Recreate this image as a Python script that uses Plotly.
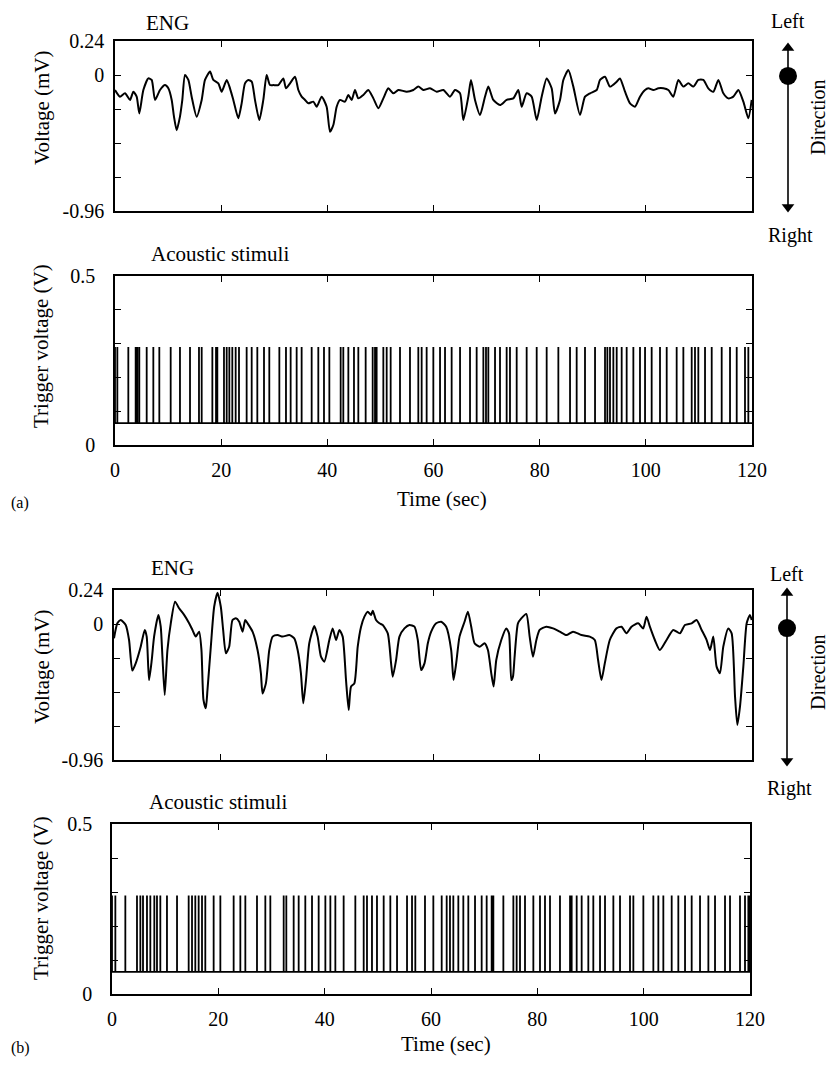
import plotly.graph_objects as go

# page is photographed at 840x1065; the html body adds an 8px margin on every side
PAGE_W, PAGE_H = 840, 1065
OFF = 8
W, H = PAGE_W - 2 * OFF, PAGE_H - 2 * OFF

# ---------------- data ----------------
eng_a_time = [
    0.00, 0.94, 1.88, 2.83, 3.45, 4.08, 4.58, 5.34, 6.28, 6.91,
    7.54, 8.48, 9.42, 10.05, 10.68, 11.11, 11.62, 12.24, 12.68, 13.19,
    13.82, 14.44, 15.38, 16.33, 16.95, 17.90, 18.52, 19.47, 20.09, 21.04,
    21.66, 22.29, 23.23, 23.86, 24.49, 25.12, 25.75, 26.37, 27.19, 27.94,
    28.57, 29.20, 29.83, 30.77, 31.71, 32.21, 32.97, 33.91, 34.54, 35.16,
    35.79, 36.42, 37.36, 37.99, 38.93, 39.87, 40.50, 41.13, 41.76, 42.39,
    43.33, 43.96, 44.58, 45.21, 45.84, 46.78, 47.72, 48.67, 49.61, 50.55,
    51.49, 52.43, 53.38, 54.95, 56.20, 57.14, 58.09, 59.34, 60.60, 61.85,
    63.11, 64.05, 65.00, 65.62, 66.56, 67.06, 67.82, 68.76, 69.70, 70.33,
    71.27, 72.53, 73.78, 75.04, 75.98, 76.61, 77.55, 78.49, 79.44, 80.38,
    81.32, 82.26, 82.89, 83.83, 84.46, 85.40, 86.34, 87.60, 88.54, 89.48,
    90.74, 91.37, 92.31, 93.25, 94.51, 95.13, 96.08, 97.02, 97.96, 98.90,
    99.85, 100.47, 101.41, 102.36, 103.30, 104.24, 105.18, 106.12, 107.07, 108.01,
    108.95, 109.89, 110.83, 111.77, 112.72, 113.66, 114.60, 115.54, 116.48, 117.43,
    118.37, 119.31, 119.94,
]
eng_a_volt = [
    -0.106, -0.153, -0.129, -0.176, -0.118, -0.153, -0.271, -0.106, -0.024, -0.035,
    -0.176, -0.106, -0.071, -0.094, -0.176, -0.294, -0.390, -0.294, -0.176, 0.000,
    -0.035, -0.153, -0.294, -0.176, -0.035, 0.024, -0.035, -0.059, -0.118, -0.035,
    -0.094, -0.176, -0.306, -0.200, -0.059, -0.035, -0.047, -0.176, -0.318, -0.176,
    0.000, -0.071, -0.071, -0.071, -0.024, -0.094, -0.059, -0.012, -0.106, -0.153,
    -0.176, -0.200, -0.188, -0.224, -0.153, -0.224, -0.400, -0.353, -0.224, -0.176,
    -0.188, -0.141, -0.176, -0.106, -0.165, -0.141, -0.106, -0.165, -0.235, -0.165,
    -0.094, -0.129, -0.106, -0.118, -0.106, -0.082, -0.106, -0.094, -0.118, -0.106,
    -0.153, -0.106, -0.129, -0.318, -0.153, -0.035, -0.176, -0.282, -0.153, -0.082,
    -0.176, -0.212, -0.176, -0.165, -0.106, -0.224, -0.129, -0.153, -0.318, -0.153,
    -0.024, -0.094, -0.271, -0.176, -0.035, 0.035, -0.082, -0.282, -0.153, -0.129,
    -0.106, -0.035, -0.012, -0.082, -0.047, -0.024, -0.118, -0.200, -0.224, -0.153,
    -0.106, -0.094, -0.106, -0.094, -0.094, -0.106, -0.153, -0.035, -0.082, -0.059,
    -0.082, -0.035, -0.035, -0.094, -0.118, -0.035, -0.129, -0.165, -0.153, -0.106,
    -0.188, -0.306, -0.176,
]

eng_b_time = [
    0.00, 0.63, 1.26, 2.20, 2.83, 3.45, 4.08, 5.02, 5.78, 6.15,
    6.59, 7.10, 7.54, 8.35, 8.79, 9.11, 9.54, 10.05, 10.68, 11.49,
    12.24, 13.19, 14.13, 14.76, 15.38, 16.01, 16.45, 16.83, 17.27, 17.58,
    18.21, 18.84, 19.47, 20.09, 20.53, 21.04, 21.66, 22.29, 22.92, 23.55,
    24.18, 24.68, 25.12, 26.06, 27.00, 27.63, 27.94, 28.57, 29.20, 29.83,
    30.77, 31.71, 32.97, 33.91, 34.54, 35.16, 35.60, 36.11, 36.73, 37.68,
    38.30, 38.93, 39.56, 40.50, 41.13, 41.76, 42.39, 43.01, 43.64, 44.14,
    44.58, 45.21, 45.84, 46.47, 47.10, 47.72, 48.35, 48.67, 49.29, 49.92,
    50.55, 51.49, 52.12, 52.43, 53.06, 53.69, 54.63, 55.57, 56.52, 57.14,
    57.77, 58.40, 59.03, 59.66, 60.60, 61.54, 62.48, 63.42, 63.86, 64.36,
    64.99, 65.93, 66.56, 67.19, 67.82, 68.76, 69.70, 70.33, 70.96, 71.40,
    71.90, 72.84, 73.78, 74.29, 74.73, 75.04, 75.35, 75.98, 76.61, 77.55,
    78.18, 78.81, 79.44, 80.06, 81.32, 82.58, 83.83, 85.09, 86.34, 87.91,
    89.48, 90.43, 91.05, 91.68, 92.31, 93.25, 94.51, 95.45, 96.39, 97.33,
    98.59, 99.53, 100.16, 100.79, 101.73, 102.67, 103.93, 105.18, 106.44, 107.38,
    108.64, 109.58, 110.53, 111.47, 112.10, 112.72, 113.34, 113.97, 114.60, 115.54,
    116.17, 116.81, 117.24, 117.74, 118.37, 119.00, 119.62, 119.94,
]
eng_b_volt = [
    -0.101, 0.005, 0.028, -0.007, -0.113, -0.329, -0.278, -0.160, -0.042, -0.089,
    -0.396, -0.254, -0.089, 0.064, -0.019, -0.231, -0.501, -0.184, 0.005, 0.158,
    0.111, 0.064, 0.005, -0.042, -0.089, -0.054, -0.184, -0.536, -0.595, -0.466,
    -0.160, 0.122, 0.220, 0.122, -0.042, -0.207, -0.160, 0.028, 0.040, 0.016,
    -0.054, 0.028, 0.005, -0.054, -0.184, -0.348, -0.490, -0.419, -0.184, -0.089,
    -0.078, -0.089, -0.078, -0.101, -0.184, -0.348, -0.560, -0.396, -0.136, -0.014,
    -0.089, -0.231, -0.266, -0.113, -0.031, -0.113, -0.042, -0.089, -0.396, -0.607,
    -0.442, -0.419, -0.160, -0.019, 0.052, 0.087, 0.064, 0.094, 0.028, 0.005,
    -0.007, -0.066, -0.278, -0.372, -0.254, -0.089, -0.031, -0.007, -0.019, -0.113,
    -0.325, -0.278, -0.136, -0.054, 0.005, 0.016, -0.019, -0.184, -0.396, -0.278,
    -0.089, 0.016, 0.087, -0.019, -0.136, -0.160, -0.136, -0.184, -0.348, -0.442,
    -0.254, -0.113, -0.031, -0.066, -0.396, -0.372, -0.231, 0.005, 0.040, 0.071,
    -0.089, -0.231, -0.113, -0.042, -0.019, -0.031, -0.054, -0.078, -0.054, -0.078,
    -0.089, -0.113, -0.254, -0.396, -0.278, -0.113, -0.031, -0.019, -0.066, -0.019,
    0.005, -0.031, 0.052, -0.019, -0.113, -0.184, -0.113, -0.042, -0.066, -0.007,
    0.005, 0.028, -0.042, -0.113, -0.184, -0.089, -0.301, -0.348, -0.160, -0.031,
    -0.066, -0.513, -0.713, -0.584, -0.301, 0.005, 0.064, 0.028,
]

stim_a_times = [
    0.0, 0.44, 2.51, 3.89, 4.21, 4.58, 5.97, 7.22, 8.35, 10.49,
    12.24, 14.13, 15.82, 16.33, 18.34, 19.03, 19.28, 20.53, 21.04, 21.54,
    22.10, 22.73, 23.36, 24.80, 25.75, 26.81, 28.07, 29.07, 30.96, 32.21,
    33.09, 34.22, 35.16, 37.05, 38.30, 39.37, 40.38, 42.51, 43.01, 43.96,
    45.02, 45.84, 47.22, 48.54, 48.98, 49.29, 50.55, 51.18, 51.93, 53.69,
    55.57, 57.14, 57.77, 58.71, 59.97, 61.23, 62.17, 63.42, 65.00, 66.88,
    68.13, 69.39, 69.89, 70.33, 71.59, 72.53, 73.78, 74.41, 75.67, 77.55,
    79.44, 81.32, 83.52, 85.72, 86.97, 88.54, 90.43, 92.31, 92.75, 93.25,
    93.88, 94.51, 95.45, 96.39, 97.65, 98.90, 99.85, 101.10, 102.67, 103.93,
    105.81, 107.07, 108.64, 109.26, 109.89, 111.15, 112.41, 114.29, 115.86, 117.12,
    118.68, 119.31,
]
stim_b_times = [
    0.0, 0.63, 2.51, 4.70, 5.33, 5.83, 6.58, 7.21, 7.96, 8.46,
    9.09, 10.34, 12.23, 14.42, 15.05, 15.67, 16.30, 16.93, 17.55, 19.12,
    20.38, 22.88, 24.14, 25.08, 27.27, 28.84, 29.78, 32.29, 32.79, 34.17,
    35.11, 36.36, 37.62, 38.87, 40.13, 41.07, 42.01, 43.57, 45.77, 47.34,
    47.96, 48.90, 49.84, 51.10, 52.35, 53.61, 55.49, 56.43, 57.05, 58.87,
    60.44, 62.01, 62.95, 63.57, 64.20, 65.14, 66.08, 67.02, 68.28, 69.53,
    70.47, 71.41, 71.73, 73.61, 75.49, 76.11, 76.74, 77.68, 79.25, 80.50,
    81.44, 82.38, 84.26, 86.15, 86.46, 87.40, 88.34, 89.59, 90.53, 91.79,
    92.73, 94.30, 95.55, 97.43, 98.06, 99.94, 101.82, 102.76, 103.70, 105.27,
    106.52, 107.78, 109.03, 110.60, 112.17, 113.42, 115.30, 116.24, 118.12, 119.06,
    119.69, 120.0,
]
stim_baseline = 0.065   # V
stim_pulse_top = 0.29   # V
direction_value = 0.0   # mV, position of the dot

eng_tickvals = [0.24, 0, -0.24, -0.48, -0.72, -0.96]
eng_ticktext = ["0.24", "0", "", "", "", "-0.96"]
stim_tickvals = [0, 0.1, 0.2, 0.3, 0.4, 0.5]
stim_ticktext = ["0", "", "", "", "", "0.5"]
time_tickvals = [0, 20, 40, 60, 80, 100, 120]
time_ticktext = ["0", "20", "40", "60", "80", "100", "120"]

# ---------------- helpers ----------------
FONT = "Liberation Serif"
FS = 20


def px(x):
    """page pixel x -> paper fraction"""
    return (x - OFF) / W


def py(y):
    """page pixel y -> paper fraction"""
    return 1 - (y - OFF) / H


def pulse_xy(times):
    xs, ys = [0], [stim_baseline]
    for t in times:
        xs += [t, t, t]
        ys += [stim_baseline, stim_pulse_top, stim_baseline]
    xs.append(120)
    ys.append(stim_baseline)
    return xs, ys


fig = go.Figure()

line_style = dict(color="black", width=2, shape="spline", smoothing=0.6)
fig.add_trace(go.Scatter(x=eng_a_time, y=eng_a_volt, mode="lines", line=line_style,
                         xaxis="x", yaxis="y", showlegend=False))
sx, sy = pulse_xy(stim_a_times)
fig.add_trace(go.Scatter(x=sx, y=sy, mode="lines", line=dict(color="black", width=1.8),
                         xaxis="x2", yaxis="y2", showlegend=False))
fig.add_trace(go.Scatter(x=eng_b_time, y=eng_b_volt, mode="lines", line=line_style,
                         xaxis="x3", yaxis="y3", showlegend=False))
sx, sy = pulse_xy(stim_b_times)
fig.add_trace(go.Scatter(x=sx, y=sy, mode="lines", line=dict(color="black", width=1.8),
                         xaxis="x4", yaxis="y4", showlegend=False))

# direction indicators
dir_specs = [
    ("x5", "y5", 42, 213, [-0.97, 0.24]),
    ("x6", "y6", 587, 767, [-0.98, 0.29]),
]
for xa, ya, top, bot, rng in dir_specs:
    per_px = (rng[1] - rng[0]) / (bot - top)
    head = 6 * per_px
    fig.add_trace(go.Scatter(x=[0, 0], y=[rng[0] + head, rng[1] - head], mode="lines",
                             line=dict(color="black", width=1.6),
                             xaxis=xa, yaxis=ya, showlegend=False))
    fig.add_trace(go.Scatter(x=[0, 0], y=[rng[1] - head, rng[0] + head], mode="markers",
                             marker=dict(symbol=["triangle-up", "triangle-down"], size=11,
                                         color="black"),
                             xaxis=xa, yaxis=ya, showlegend=False))
    fig.add_trace(go.Scatter(x=[0], y=[direction_value], mode="markers",
                             marker=dict(symbol="circle", size=18, color="black"),
                             xaxis=xa, yaxis=ya, showlegend=False))

axis_common = dict(showline=True, linecolor="black", linewidth=1.5, mirror="ticks",
                   ticks="inside", ticklen=6, tickwidth=1.3, tickcolor="black",
                   showgrid=False, zeroline=False, automargin=False,
                   tickfont=dict(family=FONT, size=FS, color="black"))


def time_axis(dom, anchor, labels):
    d = dict(axis_common)
    d.update(domain=[px(dom[0]), px(dom[1])], anchor=anchor, range=[0, 120],
             tickmode="array", tickvals=time_tickvals, ticktext=time_ticktext,
             showticklabels=labels, ticklabelstandoff=6)
    return d


def value_axis(dom, anchor, vals, text, rng, standoff):
    d = dict(axis_common)
    d.update(domain=[py(dom[1]), py(dom[0])], anchor=anchor, range=rng,
             tickmode="array", tickvals=vals, ticktext=text, ticklabelstandoff=standoff)
    return d


hidden = dict(visible=False, showgrid=False, zeroline=False, automargin=False)

fig.update_layout(
    template="none",
    width=W, height=H,
    margin=dict(l=0, r=0, t=0, b=0, autoexpand=False),
    paper_bgcolor="white", plot_bgcolor="white",
    font=dict(family=FONT, size=FS, color="black"),
    showlegend=False,
    xaxis=time_axis([115, 752], "y", False),
    yaxis=value_axis([41, 211], "x", eng_tickvals, eng_ticktext, [-0.96, 0.24], 5),
    xaxis2=time_axis([115, 752], "y2", True),
    yaxis2=value_axis([276, 445], "x2", stim_tickvals, stim_ticktext, [0, 0.5], 14),
    xaxis3=time_axis([114, 752], "y3", False),
    yaxis3=value_axis([590, 760], "x3", eng_tickvals, eng_ticktext, [-0.96, 0.24], 5),
    xaxis4=time_axis([112, 750], "y4", True),
    yaxis4=value_axis([824, 994], "x4", stim_tickvals, stim_ticktext, [0, 0.5], 14),
    xaxis5=dict(hidden, domain=[px(770), px(806)], anchor="y5", range=[-1, 1]),
    yaxis5=dict(hidden, domain=[py(213), py(42)], anchor="x5", range=[-0.97, 0.24]),
    xaxis6=dict(hidden, domain=[px(769), px(805)], anchor="y6", range=[-1, 1]),
    yaxis6=dict(hidden, domain=[py(767), py(587)], anchor="x6", range=[-0.98, 0.29]),
)

texts = [
    # text, x_px, y_px, angle, size, xanchor
    ("ENG", 167, 23, 0, 21, "center"),
    ("Acoustic stimuli", 220, 254, 0, 21, "center"),
    ("ENG", 172, 568, 0, 21, "center"),
    ("Acoustic stimuli", 218, 802, 0, 21, "center"),
    ("Voltage (mV)", 42, 108, -90, 21, "center"),
    ("Trigger voltage (V)", 41, 346, -90, 21, "center"),
    ("Voltage (mV)", 42, 667, -90, 21, "center"),
    ("Trigger voltage (V)", 41, 898, -90, 21, "center"),
    ("Time (sec)", 442, 499, 0, 21, "center"),
    ("Time (sec)", 446, 1044, 0, 21, "center"),
    ("(a)", 9, 503, 0, 16, "left"),
    ("(b)", 9, 1048, 0, 16, "left"),
    ("Left", 788, 21, 0, 20, "center"),
    ("Right", 790, 236, 0, 20, "center"),
    ("Direction", 831, 117, -90, 20, "right"),
    ("Left", 787, 574, 0, 20, "center"),
    ("Right", 789, 788, 0, 20, "center"),
    ("Direction", 831, 672, -90, 20, "right"),
]
for txt, x, y, ang, size, xa in texts:
    fig.add_annotation(text=txt, x=px(x), y=py(y), xref="paper", yref="paper",
                       xanchor=xa, yanchor="middle", showarrow=False,
                       textangle=ang, font=dict(family=FONT, size=size, color="black"))

fig.write_html("out.html")
